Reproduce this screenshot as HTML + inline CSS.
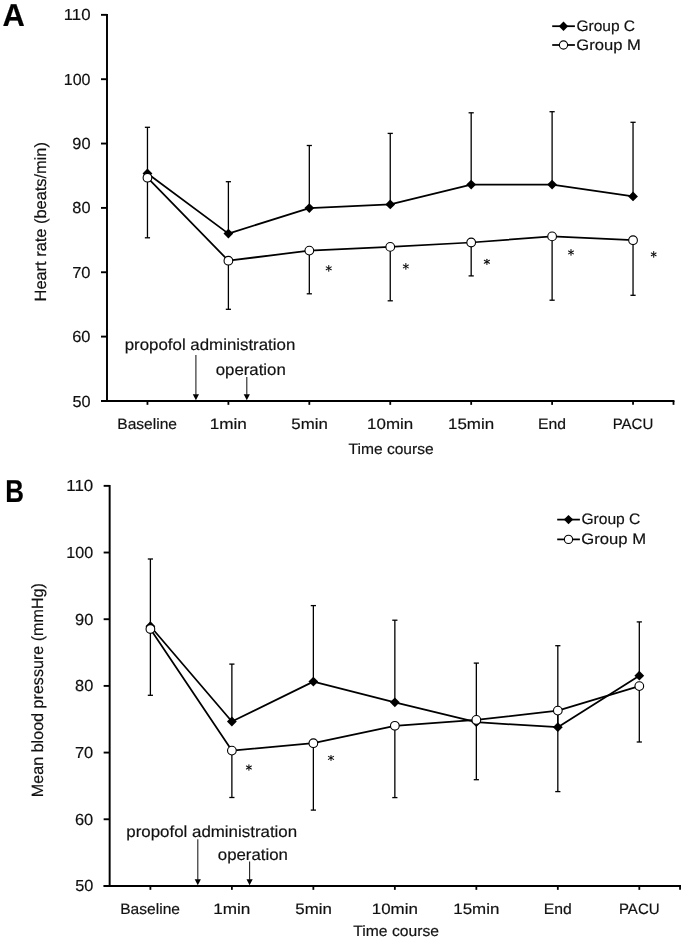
<!DOCTYPE html>
<html><head><meta charset="utf-8"><title>Heart rate and mean blood pressure</title>
<style>
html,body{margin:0;padding:0;background:#fff;}
body{width:685px;height:941px;overflow:hidden;}
svg{display:block;filter:grayscale(1);}
svg text{font-family:"Liberation Sans", sans-serif;fill:#111;text-rendering:geometricPrecision;stroke:#111;stroke-width:0.18px;}
</style></head>
<body>
<svg width="685" height="941" viewBox="0 0 685 941">
<rect width="685" height="941" fill="#fff"/>
<line x1="107" y1="13.95" x2="107" y2="400.95" stroke="#000" stroke-width="1.95"/>
<line x1="101" y1="14.85" x2="107" y2="14.85" stroke="#000" stroke-width="1.9"/>
<text x="63.69" y="20.4" font-size="16" textLength="26.82" lengthAdjust="spacingAndGlyphs">110</text>
<line x1="101" y1="79.2" x2="107" y2="79.2" stroke="#000" stroke-width="1.9"/>
<text x="63.75" y="84.75" font-size="16" textLength="26.72" lengthAdjust="spacingAndGlyphs">100</text>
<line x1="101" y1="143.55" x2="107" y2="143.55" stroke="#000" stroke-width="1.9"/>
<text x="72.27" y="149.1" font-size="16" textLength="18.23" lengthAdjust="spacingAndGlyphs">90</text>
<line x1="101" y1="207.9" x2="107" y2="207.9" stroke="#000" stroke-width="1.9"/>
<text x="72.36" y="213.45" font-size="16" textLength="18.14" lengthAdjust="spacingAndGlyphs">80</text>
<line x1="101" y1="272.25" x2="107" y2="272.25" stroke="#000" stroke-width="1.9"/>
<text x="72.19" y="277.8" font-size="16" textLength="18.32" lengthAdjust="spacingAndGlyphs">70</text>
<line x1="101" y1="336.6" x2="107" y2="336.6" stroke="#000" stroke-width="1.9"/>
<text x="72.23" y="342.15" font-size="16" textLength="18.28" lengthAdjust="spacingAndGlyphs">60</text>
<line x1="101" y1="400.95" x2="107" y2="400.95" stroke="#000" stroke-width="1.9"/>
<text x="72.4" y="406.5" font-size="16" textLength="18.1" lengthAdjust="spacingAndGlyphs">50</text>
<line x1="101" y1="400.95" x2="674.45" y2="400.95" stroke="#000" stroke-width="1.9"/>
<line x1="147.46" y1="400.95" x2="147.46" y2="404.85" stroke="#000" stroke-width="1.8"/>
<line x1="228.39" y1="400.95" x2="228.39" y2="404.85" stroke="#000" stroke-width="1.8"/>
<line x1="309.32" y1="400.95" x2="309.32" y2="404.85" stroke="#000" stroke-width="1.8"/>
<line x1="390.25" y1="400.95" x2="390.25" y2="404.85" stroke="#000" stroke-width="1.8"/>
<line x1="471.18" y1="400.95" x2="471.18" y2="404.85" stroke="#000" stroke-width="1.8"/>
<line x1="552.11" y1="400.95" x2="552.11" y2="404.85" stroke="#000" stroke-width="1.8"/>
<line x1="633.04" y1="400.95" x2="633.04" y2="404.85" stroke="#000" stroke-width="1.8"/>
<line x1="673.5" y1="400.95" x2="673.5" y2="404.85" stroke="#000" stroke-width="1.8"/>
<text x="117.28" y="429.3" font-size="15" textLength="59.76" lengthAdjust="spacingAndGlyphs">Baseline</text>
<text x="209.71" y="429.3" font-size="15" textLength="37.2" lengthAdjust="spacingAndGlyphs">1min</text>
<text x="291.3" y="429.3" font-size="15" textLength="36.47" lengthAdjust="spacingAndGlyphs">5min</text>
<text x="367.13" y="429.3" font-size="15" textLength="46.09" lengthAdjust="spacingAndGlyphs">10min</text>
<text x="448.06" y="429.3" font-size="15" textLength="46.09" lengthAdjust="spacingAndGlyphs">15min</text>
<text x="537.96" y="429.3" font-size="15" textLength="28.01" lengthAdjust="spacingAndGlyphs">End</text>
<text x="612.7" y="429.3" font-size="15" textLength="40.59" lengthAdjust="spacingAndGlyphs">PACU</text>
<text x="348.55" y="453.7" font-size="15" textLength="85.14" lengthAdjust="spacingAndGlyphs">Time course</text>
<text transform="translate(46.2,301.45) rotate(-90)" x="0" y="0" font-size="16.3" textLength="159.39" lengthAdjust="spacingAndGlyphs">Heart rate (beats/min)</text>
<text x="2.43" y="26" font-size="31.8" font-weight="bold" style="fill:#000;stroke:#000" textLength="22.31" lengthAdjust="spacingAndGlyphs">A</text>
<text x="124.7" y="349.9" font-size="16" textLength="170.63" lengthAdjust="spacingAndGlyphs">propofol administration</text>
<text x="215.69" y="374.6" font-size="16" textLength="70.11" lengthAdjust="spacingAndGlyphs">operation</text>
<line x1="195.9" y1="354.9" x2="195.9" y2="394.85" stroke="#222" stroke-width="1.1"/>
<path d="M192.8,394.35 L199,394.35 L195.9,400.35 Z" fill="#000"/>
<line x1="246.8" y1="377.1" x2="246.8" y2="394.85" stroke="#222" stroke-width="1.1"/>
<path d="M243.7,394.35 L249.9,394.35 L246.8,400.35 Z" fill="#000"/>
<line x1="147.46" y1="173.5" x2="147.46" y2="127.3" stroke="#000" stroke-width="1.3"/>
<line x1="144.86" y1="127.3" x2="150.06" y2="127.3" stroke="#000" stroke-width="1.3"/>
<line x1="147.46" y1="177.7" x2="147.46" y2="237.8" stroke="#000" stroke-width="1.3"/>
<line x1="144.86" y1="237.8" x2="150.06" y2="237.8" stroke="#000" stroke-width="1.3"/>
<line x1="228.39" y1="233.6" x2="228.39" y2="181.7" stroke="#000" stroke-width="1.3"/>
<line x1="225.79" y1="181.7" x2="230.99" y2="181.7" stroke="#000" stroke-width="1.3"/>
<line x1="228.39" y1="260.7" x2="228.39" y2="309.3" stroke="#000" stroke-width="1.3"/>
<line x1="225.79" y1="309.3" x2="230.99" y2="309.3" stroke="#000" stroke-width="1.3"/>
<line x1="309.32" y1="208.1" x2="309.32" y2="145.5" stroke="#000" stroke-width="1.3"/>
<line x1="306.72" y1="145.5" x2="311.92" y2="145.5" stroke="#000" stroke-width="1.3"/>
<line x1="309.32" y1="250.6" x2="309.32" y2="293.8" stroke="#000" stroke-width="1.3"/>
<line x1="306.72" y1="293.8" x2="311.92" y2="293.8" stroke="#000" stroke-width="1.3"/>
<line x1="390.25" y1="204.4" x2="390.25" y2="133.4" stroke="#000" stroke-width="1.3"/>
<line x1="387.65" y1="133.4" x2="392.85" y2="133.4" stroke="#000" stroke-width="1.3"/>
<line x1="390.25" y1="246.9" x2="390.25" y2="300.8" stroke="#000" stroke-width="1.3"/>
<line x1="387.65" y1="300.8" x2="392.85" y2="300.8" stroke="#000" stroke-width="1.3"/>
<line x1="471.18" y1="184.6" x2="471.18" y2="112.8" stroke="#000" stroke-width="1.3"/>
<line x1="468.58" y1="112.8" x2="473.78" y2="112.8" stroke="#000" stroke-width="1.3"/>
<line x1="471.18" y1="242.5" x2="471.18" y2="275.9" stroke="#000" stroke-width="1.3"/>
<line x1="468.58" y1="275.9" x2="473.78" y2="275.9" stroke="#000" stroke-width="1.3"/>
<line x1="552.11" y1="184.6" x2="552.11" y2="111.7" stroke="#000" stroke-width="1.3"/>
<line x1="549.51" y1="111.7" x2="554.71" y2="111.7" stroke="#000" stroke-width="1.3"/>
<line x1="552.11" y1="236.4" x2="552.11" y2="300.2" stroke="#000" stroke-width="1.3"/>
<line x1="549.51" y1="300.2" x2="554.71" y2="300.2" stroke="#000" stroke-width="1.3"/>
<line x1="633.04" y1="196.4" x2="633.04" y2="122.3" stroke="#000" stroke-width="1.3"/>
<line x1="630.44" y1="122.3" x2="635.64" y2="122.3" stroke="#000" stroke-width="1.3"/>
<line x1="633.04" y1="240.2" x2="633.04" y2="295.3" stroke="#000" stroke-width="1.3"/>
<line x1="630.44" y1="295.3" x2="635.64" y2="295.3" stroke="#000" stroke-width="1.3"/>
<polyline points="147.46,173.5 228.39,233.6 309.32,208.1 390.25,204.4 471.18,184.6 552.11,184.6 633.04,196.4" fill="none" stroke="#000" stroke-width="1.75" stroke-linejoin="round"/>
<path d="M147.46,168.6 L152.36,173.5 L147.46,178.4 L142.56,173.5 Z" fill="#000"/>
<path d="M228.39,228.7 L233.29,233.6 L228.39,238.5 L223.49,233.6 Z" fill="#000"/>
<path d="M309.32,203.2 L314.22,208.1 L309.32,213 L304.42,208.1 Z" fill="#000"/>
<path d="M390.25,199.5 L395.15,204.4 L390.25,209.3 L385.35,204.4 Z" fill="#000"/>
<path d="M471.18,179.7 L476.08,184.6 L471.18,189.5 L466.28,184.6 Z" fill="#000"/>
<path d="M552.11,179.7 L557.01,184.6 L552.11,189.5 L547.21,184.6 Z" fill="#000"/>
<path d="M633.04,191.5 L637.94,196.4 L633.04,201.3 L628.14,196.4 Z" fill="#000"/>
<polyline points="147.46,177.7 228.39,260.7 309.32,250.6 390.25,246.9 471.18,242.5 552.11,236.4 633.04,240.2" fill="none" stroke="#000" stroke-width="1.75" stroke-linejoin="round"/>
<circle cx="147.46" cy="177.7" r="4.35" fill="#fff" stroke="#000" stroke-width="1.1"/>
<circle cx="228.39" cy="260.7" r="4.35" fill="#fff" stroke="#000" stroke-width="1.1"/>
<circle cx="309.32" cy="250.6" r="4.35" fill="#fff" stroke="#000" stroke-width="1.1"/>
<circle cx="390.25" cy="246.9" r="4.35" fill="#fff" stroke="#000" stroke-width="1.1"/>
<circle cx="471.18" cy="242.5" r="4.35" fill="#fff" stroke="#000" stroke-width="1.1"/>
<circle cx="552.11" cy="236.4" r="4.35" fill="#fff" stroke="#000" stroke-width="1.1"/>
<circle cx="633.04" cy="240.2" r="4.35" fill="#fff" stroke="#000" stroke-width="1.1"/>
<g stroke="#111" stroke-width="1.05" stroke-linecap="round"><line x1="328.75" y1="268.35" x2="328.75" y2="265.43"/><line x1="328.75" y1="268.35" x2="328.75" y2="271.28"/><line x1="328.75" y1="268.35" x2="331.28" y2="266.89"/><line x1="328.75" y1="268.35" x2="326.22" y2="266.89"/><line x1="328.75" y1="268.35" x2="326.22" y2="269.81"/><line x1="328.75" y1="268.35" x2="331.28" y2="269.81"/></g>
<g stroke="#111" stroke-width="1.05" stroke-linecap="round"><line x1="405.85" y1="266.4" x2="405.85" y2="263.52"/><line x1="405.85" y1="266.4" x2="405.85" y2="269.27"/><line x1="405.85" y1="266.4" x2="408.38" y2="264.94"/><line x1="405.85" y1="266.4" x2="403.32" y2="264.94"/><line x1="405.85" y1="266.4" x2="403.32" y2="267.86"/><line x1="405.85" y1="266.4" x2="408.38" y2="267.86"/></g>
<g stroke="#111" stroke-width="1.05" stroke-linecap="round"><line x1="486.9" y1="261.8" x2="486.9" y2="259.23"/><line x1="486.9" y1="261.8" x2="486.9" y2="264.38"/><line x1="486.9" y1="261.8" x2="489.48" y2="260.31"/><line x1="486.9" y1="261.8" x2="484.32" y2="260.31"/><line x1="486.9" y1="261.8" x2="484.32" y2="263.29"/><line x1="486.9" y1="261.8" x2="489.48" y2="263.29"/></g>
<g stroke="#111" stroke-width="1.05" stroke-linecap="round"><line x1="571" y1="252.4" x2="571" y2="249.62"/><line x1="571" y1="252.4" x2="571" y2="255.18"/><line x1="571" y1="252.4" x2="573.48" y2="250.97"/><line x1="571" y1="252.4" x2="568.52" y2="250.97"/><line x1="571" y1="252.4" x2="568.52" y2="253.83"/><line x1="571" y1="252.4" x2="573.48" y2="253.83"/></g>
<g stroke="#111" stroke-width="1.05" stroke-linecap="round"><line x1="653.7" y1="254.4" x2="653.7" y2="251.62"/><line x1="653.7" y1="254.4" x2="653.7" y2="257.18"/><line x1="653.7" y1="254.4" x2="656.08" y2="253.03"/><line x1="653.7" y1="254.4" x2="651.32" y2="253.03"/><line x1="653.7" y1="254.4" x2="651.32" y2="255.77"/><line x1="653.7" y1="254.4" x2="656.08" y2="255.77"/></g>
<line x1="552.2" y1="26.2" x2="574.9" y2="26.2" stroke="#000" stroke-width="1.75"/>
<path d="M563.5,21.5 L568.2,26.2 L563.5,30.9 L558.8,26.2 Z" fill="#000"/>
<line x1="552.2" y1="45" x2="574.9" y2="45" stroke="#000" stroke-width="1.75"/>
<circle cx="563.5" cy="45" r="4.1" fill="#fff" stroke="#000" stroke-width="1.1"/>
<text x="576.42" y="31" font-size="15.2" textLength="58.69" lengthAdjust="spacingAndGlyphs">Group C</text>
<text x="576.37" y="50.2" font-size="15.2" textLength="64.5" lengthAdjust="spacingAndGlyphs">Group M</text>
<line x1="109.65" y1="484.95" x2="109.65" y2="885.95" stroke="#000" stroke-width="1.95"/>
<line x1="103.65" y1="485.85" x2="109.65" y2="485.85" stroke="#000" stroke-width="1.9"/>
<text x="66.33" y="491.35" font-size="16" textLength="26.93" lengthAdjust="spacingAndGlyphs">110</text>
<line x1="103.65" y1="552.53" x2="109.65" y2="552.53" stroke="#000" stroke-width="1.9"/>
<text x="66.39" y="558.03" font-size="16" textLength="26.83" lengthAdjust="spacingAndGlyphs">100</text>
<line x1="103.65" y1="619.22" x2="109.65" y2="619.22" stroke="#000" stroke-width="1.9"/>
<text x="75.02" y="624.72" font-size="16" textLength="18.23" lengthAdjust="spacingAndGlyphs">90</text>
<line x1="103.65" y1="685.9" x2="109.65" y2="685.9" stroke="#000" stroke-width="1.9"/>
<text x="75.11" y="691.4" font-size="16" textLength="18.14" lengthAdjust="spacingAndGlyphs">80</text>
<line x1="103.65" y1="752.58" x2="109.65" y2="752.58" stroke="#000" stroke-width="1.9"/>
<text x="74.94" y="758.08" font-size="16" textLength="18.32" lengthAdjust="spacingAndGlyphs">70</text>
<line x1="103.65" y1="819.27" x2="109.65" y2="819.27" stroke="#000" stroke-width="1.9"/>
<text x="74.98" y="824.77" font-size="16" textLength="18.28" lengthAdjust="spacingAndGlyphs">60</text>
<line x1="103.65" y1="885.95" x2="109.65" y2="885.95" stroke="#000" stroke-width="1.9"/>
<text x="75.15" y="891.45" font-size="16" textLength="18.1" lengthAdjust="spacingAndGlyphs">50</text>
<line x1="103.65" y1="885.95" x2="681" y2="885.95" stroke="#000" stroke-width="1.9"/>
<line x1="150.39" y1="885.95" x2="150.39" y2="889.85" stroke="#000" stroke-width="1.8"/>
<line x1="231.88" y1="885.95" x2="231.88" y2="889.85" stroke="#000" stroke-width="1.8"/>
<line x1="313.36" y1="885.95" x2="313.36" y2="889.85" stroke="#000" stroke-width="1.8"/>
<line x1="394.85" y1="885.95" x2="394.85" y2="889.85" stroke="#000" stroke-width="1.8"/>
<line x1="476.34" y1="885.95" x2="476.34" y2="889.85" stroke="#000" stroke-width="1.8"/>
<line x1="557.82" y1="885.95" x2="557.82" y2="889.85" stroke="#000" stroke-width="1.8"/>
<line x1="639.31" y1="885.95" x2="639.31" y2="889.85" stroke="#000" stroke-width="1.8"/>
<line x1="680.05" y1="885.95" x2="680.05" y2="889.85" stroke="#000" stroke-width="1.8"/>
<text x="120.21" y="913.8" font-size="15" textLength="59.76" lengthAdjust="spacingAndGlyphs">Baseline</text>
<text x="213.19" y="913.8" font-size="15" textLength="37.2" lengthAdjust="spacingAndGlyphs">1min</text>
<text x="295.34" y="913.8" font-size="15" textLength="36.47" lengthAdjust="spacingAndGlyphs">5min</text>
<text x="371.73" y="913.8" font-size="15" textLength="46.09" lengthAdjust="spacingAndGlyphs">10min</text>
<text x="453.22" y="913.8" font-size="15" textLength="46.09" lengthAdjust="spacingAndGlyphs">15min</text>
<text x="543.67" y="913.8" font-size="15" textLength="28.01" lengthAdjust="spacingAndGlyphs">End</text>
<text x="618.97" y="913.8" font-size="15" textLength="40.59" lengthAdjust="spacingAndGlyphs">PACU</text>
<text x="353.35" y="936" font-size="15" textLength="85.65" lengthAdjust="spacingAndGlyphs">Time course</text>
<text transform="translate(42.7,797.13) rotate(-90)" x="0" y="0" font-size="16.3" textLength="214.05" lengthAdjust="spacingAndGlyphs">Mean blood pressure (mmHg)</text>
<text x="5.25" y="502.2" font-size="31.8" font-weight="bold" style="fill:#000;stroke:#000" textLength="18.71" lengthAdjust="spacingAndGlyphs">B</text>
<text x="126.3" y="836.9" font-size="16" textLength="170.83" lengthAdjust="spacingAndGlyphs">propofol administration</text>
<text x="217.79" y="860.4" font-size="16" textLength="70.11" lengthAdjust="spacingAndGlyphs">operation</text>
<line x1="197.8" y1="839.2" x2="197.8" y2="879.85" stroke="#222" stroke-width="1.1"/>
<path d="M194.7,879.35 L200.9,879.35 L197.8,885.35 Z" fill="#000"/>
<line x1="249.6" y1="861.6" x2="249.6" y2="879.85" stroke="#222" stroke-width="1.1"/>
<path d="M246.5,879.35 L252.7,879.35 L249.6,885.35 Z" fill="#000"/>
<line x1="150.39" y1="626.2" x2="150.39" y2="559" stroke="#000" stroke-width="1.3"/>
<line x1="147.79" y1="559" x2="152.99" y2="559" stroke="#000" stroke-width="1.3"/>
<line x1="150.39" y1="629" x2="150.39" y2="695.3" stroke="#000" stroke-width="1.3"/>
<line x1="147.79" y1="695.3" x2="152.99" y2="695.3" stroke="#000" stroke-width="1.3"/>
<line x1="231.88" y1="721.5" x2="231.88" y2="664.1" stroke="#000" stroke-width="1.3"/>
<line x1="229.28" y1="664.1" x2="234.48" y2="664.1" stroke="#000" stroke-width="1.3"/>
<line x1="231.88" y1="750.6" x2="231.88" y2="797.5" stroke="#000" stroke-width="1.3"/>
<line x1="229.28" y1="797.5" x2="234.48" y2="797.5" stroke="#000" stroke-width="1.3"/>
<line x1="313.36" y1="681.6" x2="313.36" y2="605.6" stroke="#000" stroke-width="1.3"/>
<line x1="310.76" y1="605.6" x2="315.96" y2="605.6" stroke="#000" stroke-width="1.3"/>
<line x1="313.36" y1="743.2" x2="313.36" y2="810.1" stroke="#000" stroke-width="1.3"/>
<line x1="310.76" y1="810.1" x2="315.96" y2="810.1" stroke="#000" stroke-width="1.3"/>
<line x1="394.85" y1="702.3" x2="394.85" y2="620.2" stroke="#000" stroke-width="1.3"/>
<line x1="392.25" y1="620.2" x2="397.45" y2="620.2" stroke="#000" stroke-width="1.3"/>
<line x1="394.85" y1="725.8" x2="394.85" y2="797.6" stroke="#000" stroke-width="1.3"/>
<line x1="392.25" y1="797.6" x2="397.45" y2="797.6" stroke="#000" stroke-width="1.3"/>
<line x1="476.34" y1="722.2" x2="476.34" y2="663.1" stroke="#000" stroke-width="1.3"/>
<line x1="473.74" y1="663.1" x2="478.94" y2="663.1" stroke="#000" stroke-width="1.3"/>
<line x1="476.34" y1="719.9" x2="476.34" y2="779.7" stroke="#000" stroke-width="1.3"/>
<line x1="473.74" y1="779.7" x2="478.94" y2="779.7" stroke="#000" stroke-width="1.3"/>
<line x1="557.82" y1="727.2" x2="557.82" y2="645.7" stroke="#000" stroke-width="1.3"/>
<line x1="555.22" y1="645.7" x2="560.42" y2="645.7" stroke="#000" stroke-width="1.3"/>
<line x1="557.82" y1="710.6" x2="557.82" y2="791.6" stroke="#000" stroke-width="1.3"/>
<line x1="555.22" y1="791.6" x2="560.42" y2="791.6" stroke="#000" stroke-width="1.3"/>
<line x1="639.31" y1="675.7" x2="639.31" y2="621.9" stroke="#000" stroke-width="1.3"/>
<line x1="636.71" y1="621.9" x2="641.91" y2="621.9" stroke="#000" stroke-width="1.3"/>
<line x1="639.31" y1="686.1" x2="639.31" y2="742" stroke="#000" stroke-width="1.3"/>
<line x1="636.71" y1="742" x2="641.91" y2="742" stroke="#000" stroke-width="1.3"/>
<polyline points="150.39,626.2 231.88,721.5 313.36,681.6 394.85,702.3 476.34,722.2 557.82,727.2 639.31,675.7" fill="none" stroke="#000" stroke-width="1.75" stroke-linejoin="round"/>
<path d="M150.39,621.3 L155.29,626.2 L150.39,631.1 L145.49,626.2 Z" fill="#000"/>
<path d="M231.88,716.6 L236.78,721.5 L231.88,726.4 L226.98,721.5 Z" fill="#000"/>
<path d="M313.36,676.7 L318.26,681.6 L313.36,686.5 L308.46,681.6 Z" fill="#000"/>
<path d="M394.85,697.4 L399.75,702.3 L394.85,707.2 L389.95,702.3 Z" fill="#000"/>
<path d="M476.34,717.3 L481.24,722.2 L476.34,727.1 L471.44,722.2 Z" fill="#000"/>
<path d="M557.82,722.3 L562.72,727.2 L557.82,732.1 L552.92,727.2 Z" fill="#000"/>
<path d="M639.31,670.8 L644.21,675.7 L639.31,680.6 L634.41,675.7 Z" fill="#000"/>
<polyline points="150.39,629 231.88,750.6 313.36,743.2 394.85,725.8 476.34,719.9 557.82,710.6 639.31,686.1" fill="none" stroke="#000" stroke-width="1.75" stroke-linejoin="round"/>
<circle cx="150.39" cy="629" r="4.35" fill="#fff" stroke="#000" stroke-width="1.1"/>
<circle cx="231.88" cy="750.6" r="4.35" fill="#fff" stroke="#000" stroke-width="1.1"/>
<circle cx="313.36" cy="743.2" r="4.35" fill="#fff" stroke="#000" stroke-width="1.1"/>
<circle cx="394.85" cy="725.8" r="4.35" fill="#fff" stroke="#000" stroke-width="1.1"/>
<circle cx="476.34" cy="719.9" r="4.35" fill="#fff" stroke="#000" stroke-width="1.1"/>
<circle cx="557.82" cy="710.6" r="4.35" fill="#fff" stroke="#000" stroke-width="1.1"/>
<circle cx="639.31" cy="686.1" r="4.35" fill="#fff" stroke="#000" stroke-width="1.1"/>
<g stroke="#111" stroke-width="1.05" stroke-linecap="round"><line x1="248.9" y1="767.5" x2="248.9" y2="764.83"/><line x1="248.9" y1="767.5" x2="248.9" y2="770.17"/><line x1="248.9" y1="767.5" x2="251.38" y2="766.07"/><line x1="248.9" y1="767.5" x2="246.42" y2="766.07"/><line x1="248.9" y1="767.5" x2="246.42" y2="768.93"/><line x1="248.9" y1="767.5" x2="251.38" y2="768.93"/></g>
<g stroke="#111" stroke-width="1.05" stroke-linecap="round"><line x1="331" y1="757.9" x2="331" y2="755.42"/><line x1="331" y1="757.9" x2="331" y2="760.38"/><line x1="331" y1="757.9" x2="333.58" y2="756.41"/><line x1="331" y1="757.9" x2="328.42" y2="756.41"/><line x1="331" y1="757.9" x2="328.42" y2="759.39"/><line x1="331" y1="757.9" x2="333.58" y2="759.39"/></g>
<line x1="557.2" y1="519.6" x2="579.9" y2="519.6" stroke="#000" stroke-width="1.75"/>
<path d="M568.5,514.9 L573.2,519.6 L568.5,524.3 L563.8,519.6 Z" fill="#000"/>
<line x1="557.2" y1="539.4" x2="579.9" y2="539.4" stroke="#000" stroke-width="1.75"/>
<circle cx="568.5" cy="539.4" r="4.1" fill="#fff" stroke="#000" stroke-width="1.1"/>
<text x="581.42" y="524.4" font-size="15.2" textLength="59" lengthAdjust="spacingAndGlyphs">Group C</text>
<text x="581.37" y="544.2" font-size="15.2" textLength="64.71" lengthAdjust="spacingAndGlyphs">Group M</text>
</svg>
</body></html>
